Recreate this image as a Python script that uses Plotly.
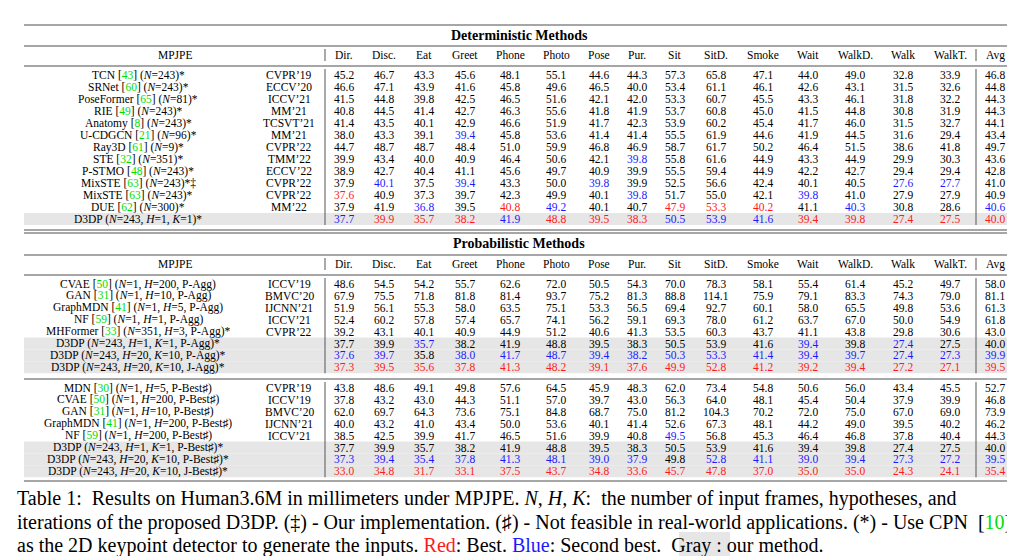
import plotly.graph_objects as go

columns = ["Dir.", "Disc.", "Eat", "Greet", "Phone", "Photo", "Pose", "Pur.", "Sit", "SitD.",
           "Smoke", "Wait", "WalkD.", "Walk", "WalkT.", "Avg"]

G = lambda s: f"<span style='color:#00dd00'>{s}</span>"

det_names = [f"TCN [{G(43)}] (<i>N</i>=243)*", f"SRNet [{G(60)}] (<i>N</i>=243)*",
             f"PoseFormer [{G(65)}] (<i>N</i>=81)*", f"RIE [{G(49)}] (<i>N</i>=243)*",
             f"Anatomy [{G(8)}] (<i>N</i>=243)*", f"U-CDGCN [{G(21)}] (<i>N</i>=96)*",
             f"Ray3D [{G(61)}] (<i>N</i>=9)*", f"STE [{G(32)}] (<i>N</i>=351)*",
             f"P-STMO [{G(48)}] (<i>N</i>=243)*", f"MixSTE [{G(63)}] (<i>N</i>=243)*‡",
             f"MixSTE [{G(63)}] (<i>N</i>=243)*", f"DUE [{G(62)}] (<i>N</i>=300)*",
             "D3DP (<i>N</i>=243, <i>H</i>=1, <i>K</i>=1)*"]
det_venues = ["CVPR’19", "ECCV’20", "ICCV’21", "MM’21", "TCSVT’21", "MM’21", "CVPR’22",
              "TMM’22", "ECCV’22", "CVPR’22", "CVPR’22", "MM’22", ""]
det_values = [
    [45.2, 46.7, 43.3, 45.6, 48.1, 55.1, 44.6, 44.3, 57.3, 65.8, 47.1, 44.0, 49.0, 32.8, 33.9, 46.8],
    [46.6, 47.1, 43.9, 41.6, 45.8, 49.6, 46.5, 40.0, 53.4, 61.1, 46.1, 42.6, 43.1, 31.5, 32.6, 44.8],
    [41.5, 44.8, 39.8, 42.5, 46.5, 51.6, 42.1, 42.0, 53.3, 60.7, 45.5, 43.3, 46.1, 31.8, 32.2, 44.3],
    [40.8, 44.5, 41.4, 42.7, 46.3, 55.6, 41.8, 41.9, 53.7, 60.8, 45.0, 41.5, 44.8, 30.8, 31.9, 44.3],
    [41.4, 43.5, 40.1, 42.9, 46.6, 51.9, 41.7, 42.3, 53.9, 60.2, 45.4, 41.7, 46.0, 31.5, 32.7, 44.1],
    [38.0, 43.3, 39.1, 39.4, 45.8, 53.6, 41.4, 41.4, 55.5, 61.9, 44.6, 41.9, 44.5, 31.6, 29.4, 43.4],
    [44.7, 48.7, 48.7, 48.4, 51.0, 59.9, 46.8, 46.9, 58.7, 61.7, 50.2, 46.4, 51.5, 38.6, 41.8, 49.7],
    [39.9, 43.4, 40.0, 40.9, 46.4, 50.6, 42.1, 39.8, 55.8, 61.6, 44.9, 43.3, 44.9, 29.9, 30.3, 43.6],
    [38.9, 42.7, 40.4, 41.1, 45.6, 49.7, 40.9, 39.9, 55.5, 59.4, 44.9, 42.2, 42.7, 29.4, 29.4, 42.8],
    [37.9, 40.1, 37.5, 39.4, 43.3, 50.0, 39.8, 39.9, 52.5, 56.6, 42.4, 40.1, 40.5, 27.6, 27.7, 41.0],
    [37.6, 40.9, 37.3, 39.7, 42.3, 49.9, 40.1, 39.8, 51.7, 55.0, 42.1, 39.8, 41.0, 27.9, 27.9, 40.9],
    [37.9, 41.9, 36.8, 39.5, 40.8, 49.2, 40.1, 40.7, 47.9, 53.3, 40.2, 41.1, 40.3, 30.8, 28.6, 40.6],
    [37.7, 39.9, 35.7, 38.2, 41.9, 48.8, 39.5, 38.3, 50.5, 53.9, 41.6, 39.4, 39.8, 27.4, 27.5, 40.0],
]
det_colors = ["k" * 16] * 5 + ["kkkbkkkkkkkkkkkk", "k" * 16, "kkkkkkkbkkkkkkkk", "k" * 16,
              "kbkbkkbkkkkkkbbk", "rkkkkkkbkkkbkkkk", "kkbkrbkkrrrkbkkb", "brrrbrrrbbbrrrrr"]
det_gray = [False] * 12 + [True]

agg_names = [f"CVAE [{G(50)}] (<i>N</i>=1, <i>H</i>=200, P-Agg)", f"GAN [{G(31)}] (<i>N</i>=1, <i>H</i>=10, P-Agg)",
             f"GraphMDN [{G(41)}] (<i>N</i>=1, <i>H</i>=5, P-Agg)", f"NF [{G(59)}] (<i>N</i>=1, <i>H</i>=1, P-Agg)",
             f"MHFormer [{G(33)}] (<i>N</i>=351, <i>H</i>=3, P-Agg)*",
             "D3DP (<i>N</i>=243, <i>H</i>=1, <i>K</i>=1, P-Agg)*",
             "D3DP (<i>N</i>=243, <i>H</i>=20, <i>K</i>=10, P-Agg)*",
             "D3DP (<i>N</i>=243, <i>H</i>=20, <i>K</i>=10, J-Agg)*"]
agg_venues = ["ICCV’19", "BMVC’20", "IJCNN’21", "ICCV’21", "CVPR’22", "", "", ""]
agg_values = [
    [48.6, 54.5, 54.2, 55.7, 62.6, 72.0, 50.5, 54.3, 70.0, 78.3, 58.1, 55.4, 61.4, 45.2, 49.7, 58.0],
    [67.9, 75.5, 71.8, 81.8, 81.4, 93.7, 75.2, 81.3, 88.8, 114.1, 75.9, 79.1, 83.3, 74.3, 79.0, 81.1],
    [51.9, 56.1, 55.3, 58.0, 63.5, 75.1, 53.3, 56.5, 69.4, 92.7, 60.1, 58.0, 65.5, 49.8, 53.6, 61.3],
    [52.4, 60.2, 57.8, 57.4, 65.7, 74.1, 56.2, 59.1, 69.3, 78.0, 61.2, 63.7, 67.0, 50.0, 54.9, 61.8],
    [39.2, 43.1, 40.1, 40.9, 44.9, 51.2, 40.6, 41.3, 53.5, 60.3, 43.7, 41.1, 43.8, 29.8, 30.6, 43.0],
    [37.7, 39.9, 35.7, 38.2, 41.9, 48.8, 39.5, 38.3, 50.5, 53.9, 41.6, 39.4, 39.8, 27.4, 27.5, 40.0],
    [37.6, 39.7, 35.8, 38.0, 41.7, 48.7, 39.4, 38.2, 50.3, 53.3, 41.4, 39.4, 39.7, 27.4, 27.3, 39.9],
    [37.3, 39.5, 35.6, 37.8, 41.3, 48.2, 39.1, 37.6, 49.9, 52.8, 41.2, 39.2, 39.4, 27.2, 27.1, 39.5],
]
agg_colors = ["k" * 16] * 5 + ["kkbkkkkkkkkbkbkk", "bbkbbbbbbbbbbbbb", "r" * 16]
agg_gray = [False] * 5 + [True] * 3

best_names = [f"MDN [{G(30)}] (<i>N</i>=1, <i>H</i>=5, P-Best♯)", f"CVAE [{G(50)}] (<i>N</i>=1, <i>H</i>=200, P-Best♯)",
              f"GAN [{G(31)}] (<i>N</i>=1, <i>H</i>=10, P-Best♯)", f"GraphMDN [{G(41)}] (<i>N</i>=1, <i>H</i>=200, P-Best♯)",
              f"NF [{G(59)}] (<i>N</i>=1, <i>H</i>=200, P-Best♯)",
              "D3DP (<i>N</i>=243, <i>H</i>=1, <i>K</i>=1, P-Best♯)*",
              "D3DP (<i>N</i>=243, <i>H</i>=20, <i>K</i>=10, P-Best♯)*",
              "D3DP (<i>N</i>=243, <i>H</i>=20, <i>K</i>=10, J-Best♯)*"]
best_venues = ["CVPR’19", "ICCV’19", "BMVC’20", "IJCNN’21", "ICCV’21", "", "", ""]
best_values = [
    [43.8, 48.6, 49.1, 49.8, 57.6, 64.5, 45.9, 48.3, 62.0, 73.4, 54.8, 50.6, 56.0, 43.4, 45.5, 52.7],
    [37.8, 43.2, 43.0, 44.3, 51.1, 57.0, 39.7, 43.0, 56.3, 64.0, 48.1, 45.4, 50.4, 37.9, 39.9, 46.8],
    [62.0, 69.7, 64.3, 73.6, 75.1, 84.8, 68.7, 75.0, 81.2, 104.3, 70.2, 72.0, 75.0, 67.0, 69.0, 73.9],
    [40.0, 43.2, 41.0, 43.4, 50.0, 53.6, 40.1, 41.4, 52.6, 67.3, 48.1, 44.2, 49.0, 39.5, 40.2, 46.2],
    [38.5, 42.5, 39.9, 41.7, 46.5, 51.6, 39.9, 40.8, 49.5, 56.8, 45.3, 46.4, 46.8, 37.8, 40.4, 44.3],
    [37.7, 39.9, 35.7, 38.2, 41.9, 48.8, 39.5, 38.3, 50.5, 53.9, 41.6, 39.4, 39.8, 27.4, 27.5, 40.0],
    [37.3, 39.4, 35.4, 37.8, 41.3, 48.1, 39.0, 37.9, 49.8, 52.8, 41.1, 39.0, 39.4, 27.3, 27.2, 39.5],
    [33.0, 34.8, 31.7, 33.1, 37.5, 43.7, 34.8, 33.6, 45.7, 47.8, 37.0, 35.0, 35.0, 24.3, 24.1, 35.4],
]
best_colors = ["k" * 16] * 4 + ["kkkkkkkkbkkkkkkk", "k" * 16, "bbbbbbbbkbbbbbbb", "r" * 16]
best_gray = [False] * 5 + [True] * 3

# ---------- layout geometry (pixels) ----------
FONT = "Liberation Serif"
FS = 11.5
COLX = [336, 376, 416, 457, 502, 548, 591, 629, 667, 708, 755, 800, 847, 895, 942, 987]
NAME_X, VEN_X = 130, 281
L, R = 16, 1006
SEP1, SEP2 = 317, 968
CMAP = {"k": "#000000", "r": "#ff1a1a", "b": "#1a1aff"}

ann, shapes = [], []

def hline(y, w=1.3, c="#888"):
    shapes.append(dict(type="line", x0=L, x1=R, y0=y, y1=y, line=dict(color=c, width=w)))

def vline(y0, y1):
    for x in (SEP1, SEP2):
        shapes.append(dict(type="line", x0=x, x1=x, y0=y0, y1=y1, line=dict(color="#555", width=1)))

def text(x, y, s, size=FS, color="#000", anchor="center"):
    ann.append(dict(x=x, y=y, text=s, showarrow=False, xanchor=anchor, yanchor="middle",
                    borderpad=0, font=dict(family=FONT, size=size, color=color)))

title_y_titles = {27: "Deterministic Methods", 235: "Probabilistic Methods"}

def header(title_y, line1, head_y, line2):
    text(511, title_y, "<b>%s</b>" % title_y_titles[title_y], size=14)
    hline(line1)
    text(167, head_y, "MPJPE")
    for x, c in zip(COLX, columns):
        text(x, head_y, c)
    for x in (SEP1, SEP2):
        shapes.append(dict(type="line", x0=x, x1=x, y0=head_y - 6, y1=head_y + 6,
                           line=dict(color="#555", width=1)))
    hline(line2)

def block(y0, step, names, venues, values, colors, gray):
    n = len(names)
    for i in range(n):
        y = y0 + i * step
        if gray[i]:
            shapes.append(dict(type="rect", x0=L, x1=R, y0=y - step / 2, y1=y + step / 2,
                               fillcolor="#e6e6e6", line=dict(width=0), layer="below"))
        text(NAME_X, y, names[i])
        if venues[i]:
            text(VEN_X, y, venues[i])
        for j, v in enumerate(values[i]):
            text(COLX[j], y, f"{v:.1f}", color=CMAP[colors[i][j]])
    vline(y0 - step / 2, y0 + (n - 1) * step + step / 2)

hline(17)
header(27, 38, 47, 58)
block(67, 12.0, det_names, det_venues, det_values, det_colors, det_gray)
hline(222); hline(225)
header(235, 247, 256, 267)
block(276, 11.9, agg_names, agg_venues, agg_values, agg_colors, agg_gray)
hline(371)
block(380, 11.9, best_names, best_venues, best_values, best_colors, best_gray)
hline(473)

# caption
CFS = 20
caption = [
    "Table 1:  Results on Human3.6M in millimeters under MPJPE. <i>N, H, K</i>:  the number of input frames, hypotheses, and",
    "iterations of the proposed D3DP. (‡) - Our implementation. (♯) - Not feasible in real-world applications. (*) - Use CPN  [" + G(10) + "]",
    "as the 2D keypoint detector to generate the inputs. <span style='color:#ff1a1a'>Red</span>: Best. "
    "<span style='color:#1a1aff'>Blue</span>: Second best.  Gray : our method.",
]
shapes.append(dict(type="rect", x0=671, x1=722, y0=524, y1=550, fillcolor="#e6e6e6",
                   line=dict(width=0), layer="below"))
for s, y in zip(caption, [490, 514, 537]):
    text(8, y, s, size=CFS, anchor="left")

fig = go.Figure()
fig.update_layout(width=1015, height=556, margin=dict(l=0, r=0, t=0, b=0),
                  paper_bgcolor="white", plot_bgcolor="white", showlegend=False,
                  xaxis=dict(range=[0, 1015], visible=False, fixedrange=True),
                  yaxis=dict(range=[556, 0], visible=False, fixedrange=True),
                  annotations=ann, shapes=shapes)
fig.write_html("out.html", config={"displayModeBar": False})
